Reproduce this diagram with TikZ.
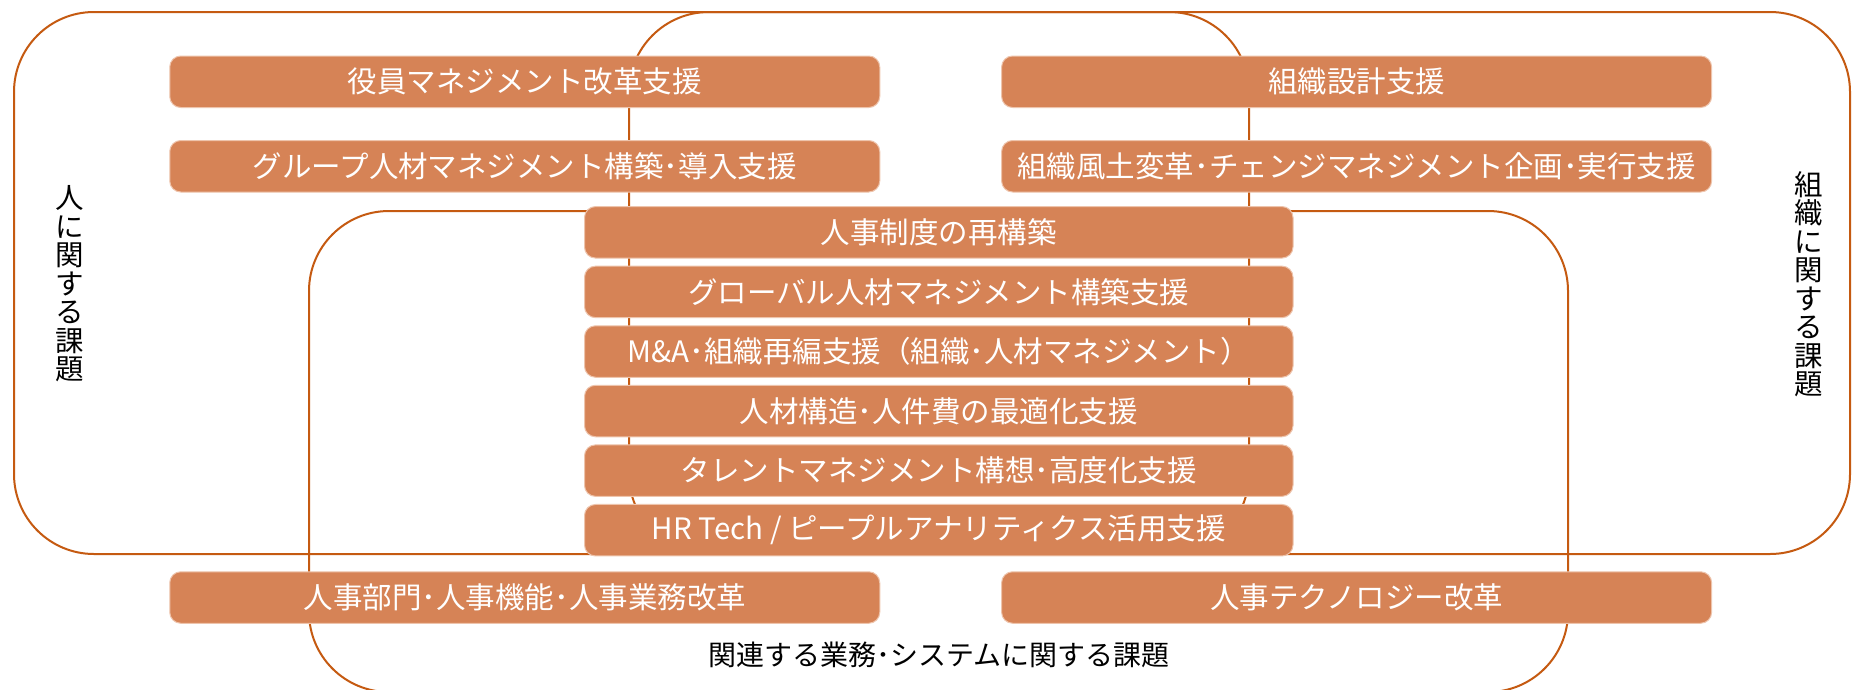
\documentclass[tikz,border=0pt]{standalone}
\usepackage{fontspec}
\newfontfamily\jp{Noto Sans CJK JP}
\definecolor{boxfill}{RGB}{214,131,86}
\definecolor{boxedge}{RGB}{238,196,172}
\definecolor{frameline}{RGB}{197,90,17}
\newcommand{\nkdot}{･}
\begin{document}
\begin{tikzpicture}[x=1pt,y=-1pt,
  item/.style={draw=boxedge, line width=1pt, fill=boxfill, rounded corners=11pt,
    minimum width=710pt, minimum height=51.5pt, inner sep=0pt, text=white,
    font=\jp\fontsize{29.5}{29.5}\selectfont},
  frame/.style={draw=frameline, line width=2pt, rounded corners=80pt},
  vlabel/.style={text=black, font=\jp\fontsize{28.5}{28.5}\selectfont, inner sep=0pt, align=center},
  hlabel/.style={text=black, font=\jp\fontsize{28}{28}\selectfont, inner sep=0pt}]
\clip (0,0) rectangle (1852,689);
\fill[white] (0,0) rectangle (1852,689);
% group frames
\draw[frame] (14,12) rectangle (1249,554);
\draw[frame] (629,12) rectangle (1850,554);
\draw[frame] (309,211) rectangle (1568,692);
% left / right column boxes
\node[item] (yakuin) at (524.75,81.75) {役員マネジメント改革支援};
\node[item] (soshikisekkei) at (1356.6,81.75) {組織設計支援};
\node[item] (group) at (524.75,166.25) {グループ人材マネジメント構築\nkdot 導入支援};
\node[item] (fudo) at (1356.6,166.25) {組織風土変革\nkdot チェンジマネジメント企画\nkdot 実行支援};
% centre column
\node[item, minimum width=708.5pt] (c1) at (938.75,232.3) {人事制度の再構築};
\node[item, minimum width=708.5pt] (c2) at (938.75,291.9) {グローバル人材マネジメント構築支援};
\node[item, minimum width=708.5pt] (c3) at (938.75,351.5) {M\&A\nkdot 組織再編支援（組織\nkdot 人材マネジメント）};
\node[item, minimum width=708.5pt] (c4) at (938.75,411.0) {人材構造\nkdot 人件費の最適化支援};
\node[item, minimum width=708.5pt] (c5) at (938.75,470.6) {タレントマネジメント構想\nkdot 高度化支援};
\node[item, minimum width=708.5pt] (c6) at (938.75,530.2) {HR Tech / ピープルアナリティクス活用支援};
% bottom row
\node[item] (jinjibumon) at (524.75,597.5) {人事部門\nkdot 人事機能\nkdot 人事業務改革};
\node[item] (tech) at (1356.6,597.5) {人事テクノロジー改革};
% labels
\node[vlabel] (lhito) at (70,284) {人\\に\\関\\す\\る\\課\\題};
\node[vlabel] (lsoshiki) at (1808.5,284) {組\\織\\に\\関\\す\\る\\課\\題};
\node[hlabel] (lkanren) at (939,654.5) {関連する業務\nkdot システムに関する課題};
\end{tikzpicture}
\end{document}
